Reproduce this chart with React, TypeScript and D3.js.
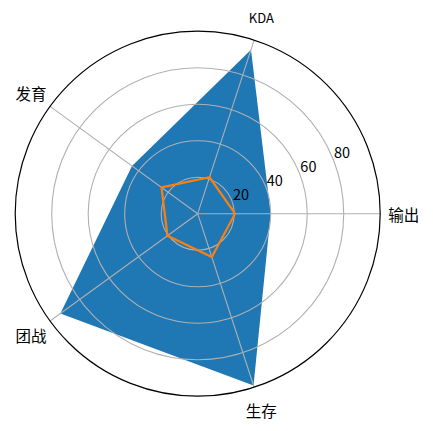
import React, { useEffect, useRef } from "react";
import * as d3 from "d3";

const categories = ["输出", "KDA", "发育", "团战", "生存"];
const seriesA = [40, 94.5, 44.5, 93, 99];
const seriesB = [20.5, 21, 24.5, 20.5, 25];
const radialTicks = [20, 40, 60, 80];
const rMax = 100;

const App: React.FC = () => {
  const svgRef = useRef<SVGSVGElement>(null);

  useEffect(() => {
    if (!svgRef.current) return;
    const svg = d3.select(svgRef.current);
    svg.selectAll("*").remove();

    const width = 433;
    const height = 431;
    const cx = 197.7;
    const cy = 213.7;
    const outer = 182.5;
    const font = "'Noto Sans CJK SC', 'DejaVu Sans', sans-serif";

    svg.attr("width", width).attr("height", height);

    const g = svg.append("g").attr("transform", `translate(${cx},${cy})`);

    const r = d3.scaleLinear().domain([0, rMax]).range([0, outer]);
    // matplotlib angle (ccw from east) -> d3 radial angle (cw from north)
    const theta = (i: number) => (i * 2 * Math.PI) / categories.length;
    const d3Angle = (i: number) => Math.PI / 2 - theta(i);

    const radial = d3
      .lineRadial<number>()
      .angle((_, i) => d3Angle(i))
      .radius((d) => r(d))
      .curve(d3.curveLinearClosed);

    // Filled series
    g.append("path")
      .attr("d", radial(seriesA))
      .attr("fill", "#1f77b4")
      .attr("stroke", "none");

    // Grid circles
    g.selectAll(".grid-circle")
      .data(radialTicks)
      .enter()
      .append("circle")
      .attr("r", (d) => r(d))
      .attr("fill", "none")
      .attr("stroke", "#b0b0b0")
      .attr("stroke-width", 1.1);

    // Spoke lines
    g.selectAll(".spoke")
      .data(categories)
      .enter()
      .append("line")
      .attr("x1", 0)
      .attr("y1", 0)
      .attr("x2", (_, i) => r(rMax) * Math.cos(theta(i)))
      .attr("y2", (_, i) => -r(rMax) * Math.sin(theta(i)))
      .attr("stroke", "#b0b0b0")
      .attr("stroke-width", 1.1);

    // Line series
    g.append("path")
      .attr("d", radial(seriesB))
      .attr("fill", "none")
      .attr("stroke", "#ff7f0e")
      .attr("stroke-width", 2.2)
      .attr("stroke-linejoin", "miter");

    // Outer spine
    g.append("circle")
      .attr("r", r(rMax))
      .attr("fill", "none")
      .attr("stroke", "#000")
      .attr("stroke-width", 1.2);

    // Radial tick labels at 22.5°
    const labelAngle = (22.5 * Math.PI) / 180;
    g.selectAll(".rtick")
      .data(radialTicks)
      .enter()
      .append("text")
      .attr("x", (d) => r(d) * Math.cos(labelAngle) + 1.5)
      .attr("y", (d) => -r(d) * Math.sin(labelAngle))
      .attr("text-anchor", "start")
      .attr("font-family", font)
      .attr("font-size", "14.5px")
      .attr("fill", "#000")
      .text((d) => String(d));

    // Category labels
    const labelR = 206;
    g.selectAll(".cat")
      .data(categories)
      .enter()
      .append("text")
      .attr("x", (_, i) => labelR * Math.cos(theta(i)))
      .attr("y", (_, i) => -labelR * Math.sin(theta(i)))
      .attr("text-anchor", "middle")
      .attr("dominant-baseline", "central")
      .attr("font-family", font)
      .attr("font-size", (d) => (d === "KDA" ? "13px" : "15.5px"))
      .attr("fill", "#000")
      .text((d) => d);
  }, []);

  return (
    <svg
      ref={svgRef}
      style={{ position: "absolute", left: 0, top: 0, display: "block", background: "#fff" }}
    ></svg>
  );
};

export default App;
